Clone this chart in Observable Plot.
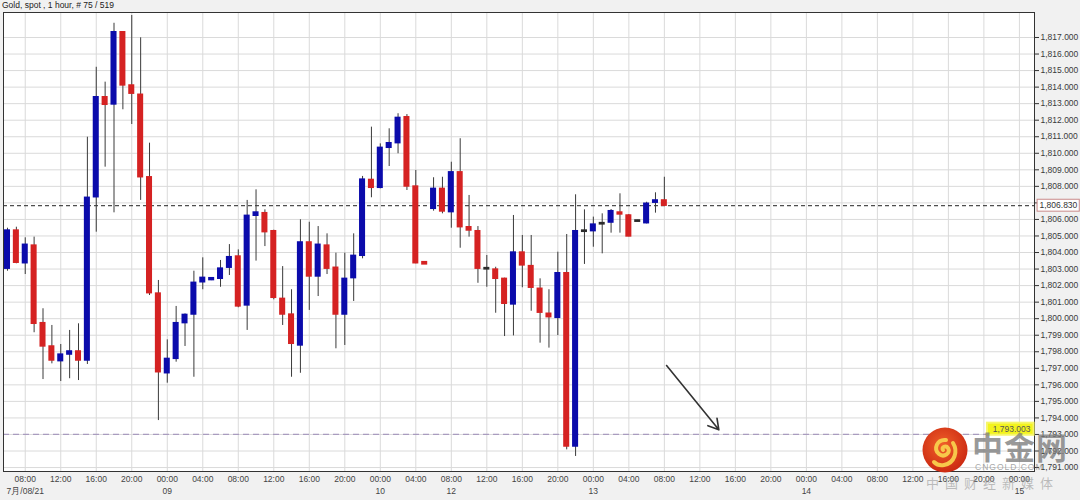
<!DOCTYPE html>
<html><head><meta charset="utf-8">
<script src="https://cdn.jsdelivr.net/npm/d3@7"></script>
<script src="https://cdn.jsdelivr.net/npm/@observablehq/plot@0.6"></script>
<style>
body{margin:0;background:#f1f1f1;font-family:"Liberation Sans",Arial,sans-serif;}
#wrap{position:relative;width:1080px;height:500px;overflow:hidden;background:#f1f1f1}
#chart{position:absolute;left:0;top:0}
#title{position:absolute;left:2px;top:0px;font-size:8.5px;color:#222;line-height:11px}
.wm{position:absolute;pointer-events:none}
#wmLogo{left:922px;top:427px}
#wmName{left:972px;top:426px;font-family:"Noto Sans CJK SC",sans-serif;font-size:31px;font-weight:700;color:rgba(120,120,120,0.75);letter-spacing:1px;line-height:40px}
#wmDomain{left:975px;top:462px;font-size:8.5px;color:rgba(130,130,130,0.7);letter-spacing:1px}
#wmSlogan{left:926px;top:473px;font-family:"Noto Sans CJK SC",sans-serif;font-size:13px;color:rgba(150,150,150,0.6);letter-spacing:6px}
</style></head><body>
<div id="wrap">
<div id="chart"></div>
<div id="title">Gold, spot , 1 hour, # 75 / 519</div>
<svg class="wm" id="wmLogo" width="48" height="48" viewBox="0 0 48 48">
<defs><radialGradient id="lg" cx="45%" cy="40%" r="60%"><stop offset="0%" stop-color="#f0602a"/><stop offset="100%" stop-color="#cc2a12"/></radialGradient></defs>
<circle cx="23" cy="23" r="22.5" fill="url(#lg)"/>
<path d="M24 13 C15 12 11 22 17 27 C22 31 29 26 26 21 C24 18 19 20 21 23 M31 16 C36 24 33 36 22 38 C17 39 14 37 12 35" fill="none" stroke="#f7c84a" stroke-width="4" stroke-linecap="round"/>
</svg>
<div class="wm" id="wmName">中金网</div>
<div class="wm" id="wmDomain">CNGOLD.COM</div>
<div class="wm" id="wmSlogan">中国财经新媒体</div>
</div>
<script>
// Hourly candles (index 0 = 7/08 06:00)
const opens  = [1803.02,1805.33,1803.35,1804.42,1799.73,1798.32,1797.43,1797.83,1798.02,1797.47,
                1807.34,1813.39,1812.95,1817.32,1814.10,1813.54,1808.55,1801.52,1796.70,1797.57,
                1799.73,1800.25,1802.20,1802.33,1802.41,1803.08,1803.76,1800.80,1806.22,1806.38,
                1805.29,1801.20,1800.25,1798.38,1804.61,1802.55,1804.42,1803.08,1800.25,1802.45,
                1803.80,1808.39,1807.91,1810.33,1810.61,1812.18,1807.99,1803.42,1806.64,1807.85,
                1806.44,1808.85,1805.53,1805.29,1802.98,1802.97,1802.41,1800.86,1804.00,1803.18,
                1801.81,1800.30,1800.05,1802.75,1792.27,1805.25,1805.29,1805.70,1805.81,1806.42,
                1806.24,1805.86,1805.77,1807.01,1807.15];
const highs  = [1805.47,1805.53,1804.89,1804.93,1800.60,1799.59,1798.44,1799.29,1799.69,1810.97,
                1815.20,1814.30,1817.86,1817.32,1818.33,1816.98,1810.61,1802.31,1798.72,1800.74,
                1800.29,1802.87,1803.68,1802.47,1803.52,1804.48,1804.16,1807.15,1807.79,1806.58,
                1805.35,1803.15,1801.75,1805.98,1805.83,1805.57,1805.13,1803.96,1803.96,1805.13,
                1808.60,1811.58,1810.57,1811.48,1812.39,1812.34,1808.96,1803.42,1808.52,1808.55,
                1809.46,1810.88,1807.45,1805.57,1803.82,1803.11,1802.45,1806.24,1805.03,1805.03,
                1802.41,1801.75,1804.02,1805.09,1807.49,1806.58,1806.14,1806.34,1806.60,1807.55,
                1806.30,1805.95,1807.04,1807.61,1808.55];
const lows   = [1802.87,1803.32,1802.67,1799.15,1796.32,1797.27,1796.20,1796.37,1796.26,1797.23,
                1805.23,1809.16,1806.40,1812.63,1811.74,1807.15,1801.40,1793.84,1796.10,1797.37,
                1798.32,1796.46,1801.75,1802.30,1801.90,1802.61,1800.66,1799.29,1803.48,1804.36,
                1801.14,1799.59,1796.46,1796.70,1800.50,1801.34,1802.67,1798.18,1798.38,1801.04,
                1803.62,1807.31,1807.85,1809.20,1809.97,1807.75,1803.32,1803.28,1806.50,1806.34,
                1805.47,1804.26,1804.93,1802.14,1801.90,1800.33,1798.92,1798.96,1801.87,1800.45,
                1798.52,1798.22,1798.98,1792.07,1791.67,1803.28,1804.32,1803.92,1805.17,1805.17,
                1804.95,1805.85,1805.73,1806.38,1806.83];
const closes = [1805.33,1803.38,1804.47,1799.69,1798.32,1797.47,1797.83,1798.02,1797.47,1807.31,
                1813.39,1812.93,1817.32,1814.10,1813.60,1808.55,1801.54,1796.76,1797.57,1799.73,
                1800.23,1802.17,1802.47,1802.45,1803.03,1803.72,1800.74,1806.22,1806.42,1805.23,
                1801.26,1800.25,1798.48,1804.61,1802.55,1804.47,1803.02,1800.25,1802.41,1803.80,
                1808.41,1807.91,1810.33,1810.61,1812.14,1807.99,1803.35,1803.28,1807.85,1806.48,
                1808.85,1805.53,1805.33,1803.02,1803.06,1802.41,1800.90,1804.00,1803.22,1801.87,
                1800.36,1800.09,1802.75,1792.27,1805.29,1805.33,1805.69,1805.78,1806.50,1806.30,
                1804.97,1805.94,1806.95,1807.15,1806.83];

// bottom axis: tick positions (bar index) and labels
const tickIdx    = [2,6,10,14,18,22,26,30,34,38,42,46,50,54,58,62,66,70,74,78,82,86,90,94,98,102,106,110,114];
const tickLabels = ["08:00","12:00","16:00","20:00","00:00","04:00","08:00","12:00","16:00","20:00",
                    "00:00","04:00","08:00","12:00","16:00","20:00","00:00","04:00","08:00","12:00",
                    "16:00","20:00","00:00","04:00","08:00","12:00","16:00","20:00","00:00"];
const dateIdx    = [2,18,42,50,66,90,114];
const dateLabels = ["7月/08/21","09","10","12","13","14","15"];

// right axis ticks
const yTicks = d3.range(1791, 1818);

// annotations
const lastPrice  = 1806.83;
const levelPrice = 1793.003;
const arrowStart = [74.25, 1797.17];
const arrowEnd   = [80.14, 1793.28];

const candles = opens.map((o, i) => ({i, o, h: highs[i], l: lows[i], c: closes[i]}));
const bodyColor = d => d.c - d.o > 0.1 ? "#0b0bab" : d.o - d.c > 0.1 ? "#d52222" : "#2b2b2b";
const ticks = tickIdx.map((t, k) => ({t, label: tickLabels[k]}));
const dates = dateIdx.map((t, k) => ({t, label: dateLabels[k]}));
const fmt = d3.format(",.3f");

const plot = Plot.plot({
  width: 1080, height: 500,
  marginLeft: 3, marginRight: 46, marginTop: 12, marginBottom: 29,
  style: {background: "transparent", fontFamily: "Liberation Sans, Arial, sans-serif", fontSize: "8.5px", color: "#3a3a3a"},
  x: {domain: [-0.45, 115.7], axis: null},
  y: {domain: [1790.761, 1818.511], axis: null},
  marks: [
    Plot.frame({fill: "white", stroke: "none"}),
    Plot.gridX(tickIdx, {stroke: "#dadada", strokeOpacity: 1}),
    Plot.gridY(yTicks, {stroke: "#dadada", strokeOpacity: 1}),
    Plot.ruleY([levelPrice], {stroke: "#a99cbf", strokeDasharray: "6,4", strokeWidth: 1.3}),
    Plot.ruleY([lastPrice], {stroke: "#222", strokeDasharray: "4,3"}),
    Plot.ruleX(candles, {x: "i", y1: "l", y2: "h", stroke: "#3a3a3a", strokeWidth: 1}),
    Plot.rect(candles, {
      x1: d => d.i - 0.34, x2: d => d.i + 0.34,
      y1: d => Math.min(d.o, d.c), y2: d => Math.max(d.o, d.c),
      fill: bodyColor, insetTop: -0.7, insetBottom: -0.7
    }),
    Plot.arrow([{a: arrowStart, b: arrowEnd}], {
      x1: d => d.a[0], y1: d => d.a[1], x2: d => d.b[0], y2: d => d.b[1],
      stroke: "#333", strokeWidth: 1.6, headLength: 11
    }),
    Plot.frame({stroke: "#333"}),
    Plot.axisY(yTicks, {anchor: "right", tickFormat: fmt, tickSize: 4, tickPadding: 2, stroke: "#333", label: null}),
    Plot.text(ticks, {x: "t", text: "label", frameAnchor: "bottom", dy: 10, fill: "#444"}),
    Plot.text(dates, {x: "t", text: "label", frameAnchor: "bottom", dy: 22, fill: "#444"}),
    // last price box on the axis
    Plot.rect([lastPrice], {x1: 116.05, x2: 120.8, y1: d => d - 0.36, y2: d => d + 0.36, fill: "white", stroke: "#c98a8a"}),
    Plot.text([lastPrice], {y: d => d, text: d => fmt(d), frameAnchor: "right", dx: 5, textAnchor: "start", fill: "#333"}),
    // level label (yellow)
    Plot.rect([levelPrice], {x1: 110.4, x2: 115.65, y1: d => d - 0.05, y2: d => d + 0.68, fill: "#f3f31c", stroke: "#f6f66a", strokeWidth: 2}),
    Plot.text([levelPrice], {y: d => d + 0.3, text: d => fmt(d), frameAnchor: "right", dx: -4, textAnchor: "end", fill: "#555"})
  ]
});
document.getElementById("chart").appendChild(plot);
</script>
</body></html>
